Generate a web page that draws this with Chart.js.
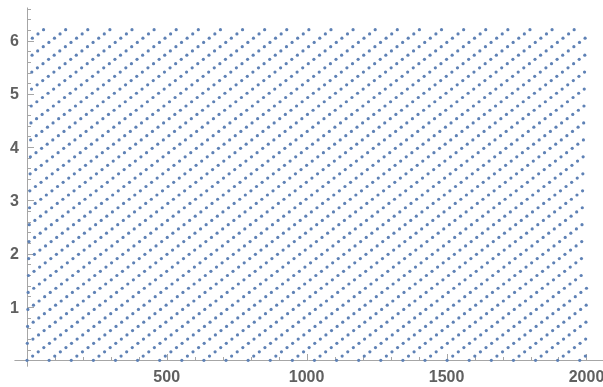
<!DOCTYPE html>
<html>
<head>
<meta charset="utf-8">
<script src="https://cdn.jsdelivr.net/npm/chart.js@4.4.1/dist/chart.umd.min.js"></script>
<style>
  html, body { margin: 0; padding: 0; background: #fff; }
  #wrap { width: 603px; height: 387px; }
</style>
</head>
<body>
<div id="wrap"><canvas id="modChart" width="603" height="387"></canvas></div>
<script>
// Number of points in the list plot (x = 1 .. 2000)
const pointCount = 2000;

// One period (79 points) of the sawtooth pattern, in radians.
// The plotted values repeat with this period along the x axis.
const phaseCycle = [
  0.000, 0.318, 0.636, 0.954, 1.273, 1.591, 1.909, 2.227, 2.545, 2.863,
  3.181, 3.499, 3.818, 4.136, 4.454, 4.772, 5.090, 5.408, 5.726, 6.045,
  0.080, 0.398, 0.716, 1.034, 1.352, 1.670, 1.988, 2.306, 2.625, 2.943,
  3.261, 3.579, 3.897, 4.215, 4.534, 4.852, 5.170, 5.488, 5.806, 6.124,
  0.159, 0.477, 0.795, 1.113, 1.432, 1.750, 2.068, 2.386, 2.704, 3.022,
  3.340, 3.659, 3.977, 4.295, 4.613, 4.931, 5.249, 5.567, 5.886, 6.204,
  0.239, 0.557, 0.875, 1.193, 1.511, 1.829, 2.147, 2.466, 2.784, 3.102,
  3.420, 3.738, 4.056, 4.374, 4.692, 5.011, 5.329, 5.647, 5.965
];

// Axis ticks
const xMajorTicks = [500, 1000, 1500, 2000];
const xTickLabels = ['500', '1000', '1500', '2000'];
const yMajorTicks = [1, 2, 3, 4, 5, 6];
const yTickLabels = ['1', '2', '3', '4', '5', '6'];

// Build the point list from the period above
const points = [];
for (let i = 0; i < pointCount; i++) {
    points.push({ x: i + 1, y: phaseCycle[i % phaseCycle.length] });
}

const AXIS_COLOR = '#a6a6a6';
const LABEL_COLOR = '#606060';

// Mathematica-style axes drawn through the chart's own scales
const mmaAxes = {
    id: 'mmaAxes',
    beforeDatasetsDraw(chart) {
        const ctx = chart.ctx;
        const xs = chart.scales.x;
        const ys = chart.scales.y;
        const x0 = Math.round(xs.getPixelForValue(0)) + 0.5;
        const y0 = Math.round(ys.getPixelForValue(0)) + 0.5;

        ctx.save();
        ctx.strokeStyle = AXIS_COLOR;
        ctx.lineWidth = 1;

        // axis lines
        ctx.beginPath();
        ctx.moveTo(xs.getPixelForValue(-44), y0);
        ctx.lineTo(chart.width, y0);
        ctx.moveTo(x0, ys.getPixelForValue(-0.12));
        ctx.lineTo(x0, ys.getPixelForValue(6.62));
        ctx.stroke();

        // x ticks (minor every 100, major every 500)
        ctx.beginPath();
        for (let v = 100; v <= 2000; v += 100) {
            const px = Math.round(xs.getPixelForValue(v)) + 0.5;
            const len = v % 500 === 0 ? 6.5 : 3.5;
            ctx.moveTo(px, y0);
            ctx.lineTo(px, y0 - len);
        }
        // y ticks (minor every 0.2, major every 1)
        for (let k = 1; k <= 33; k++) {
            const v = k * 0.2;
            const py = Math.round(ys.getPixelForValue(v)) + 0.5;
            const len = k % 5 === 0 ? 6.5 : 3.5;
            ctx.moveTo(x0, py);
            ctx.lineTo(x0 + len, py);
        }
        ctx.stroke();

        // tick labels
        ctx.fillStyle = LABEL_COLOR;
        ctx.font = 'bold 16px "Liberation Sans", Arial, sans-serif';
        ctx.textBaseline = 'alphabetic';
        ctx.textAlign = 'center';
        xMajorTicks.forEach((v, i) => {
            ctx.fillText(xTickLabels[i], xs.getPixelForValue(v), 382);
        });
        ctx.textAlign = 'right';
        yMajorTicks.forEach((v, i) => {
            ctx.fillText(yTickLabels[i], 19, ys.getPixelForValue(v) + 5.5);
        });
        ctx.restore();
    }
};

const ctx = document.getElementById('modChart').getContext('2d');
const chart = new Chart(ctx, {
    type: 'scatter',
    data: {
        datasets: [{
            data: points,
            backgroundColor: '#5e81b5',
            borderWidth: 0,
            pointRadius: 1.6,
            pointHoverRadius: 1.6
        }]
    },
    options: {
        responsive: false,
        animation: false,
        layout: { padding: 0 },
        clip: false,
        plugins: {
            legend: { display: false },
            tooltip: { enabled: false }
        },
        scales: {
            x: { type: 'linear', display: false, min: -89.9, max: 2053.3 },
            y: { type: 'linear', display: false, min: -0.471, max: 6.731 }
        }
    },
    plugins: [mmaAxes]
});
</script>
</body>
</html>
